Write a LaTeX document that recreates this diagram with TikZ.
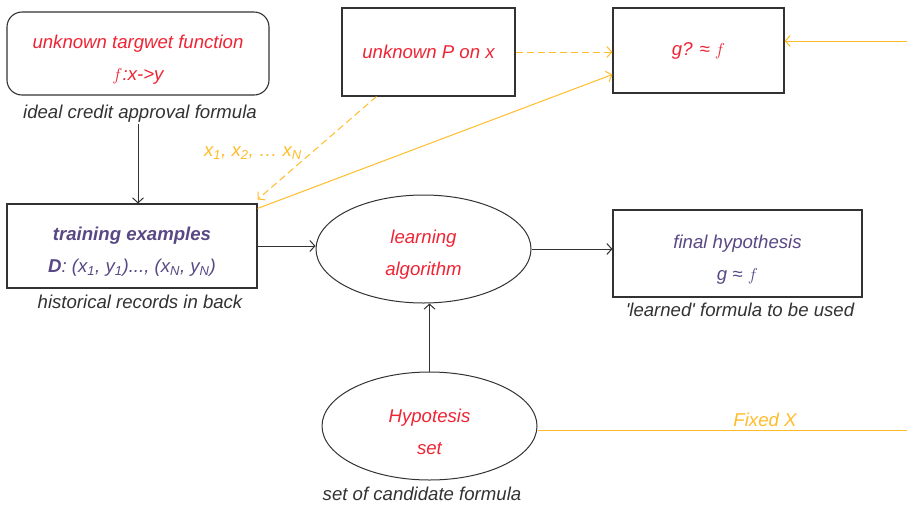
\documentclass[tikz,border=0pt]{standalone}
\usepackage{fontspec}
\setmainfont{Liberation Sans}
\usetikzlibrary{shapes.geometric,arrows.meta}
\definecolor{redtxt}{RGB}{238,36,52}
\definecolor{purpletxt}{RGB}{88,72,132}
\definecolor{ambr}{RGB}{255,188,40}
\definecolor{linegray}{RGB}{50,50,50}
\def\lift{\rule{0pt}{25pt}}

\begin{document}
\begin{tikzpicture}[x=1pt,y=-1pt,>={Straight Barb[length=5pt,width=11pt]},
		every node/.style={font=\fontsize{18.6}{32}\selectfont\itshape,align=center},
		box/.style={draw=linegray,line width=1.1pt,inner sep=0pt},
		oval/.style={ellipse,draw=linegray,line width=1pt,inner sep=0pt},
		note/.style={text=linegray,inner sep=1pt},
		flow/.style={->,draw=linegray,line width=1pt},
		feed/.style={->,draw=ambr,line width=1pt},
		gap/.style={dash pattern=on 7pt off 4pt}]
			\useasboundingbox (0,0) rectangle (907,504);
			% top row
			\node[box,rounded corners=15pt,minimum width=262pt,minimum height=83pt,text=redtxt] (target) at (138,53.5) {\lift unknown targwet function\\$f$:x->y};
			\node[note] (targetnote) at (140,114) {ideal credit approval formula};
			\node[box,minimum width=173pt,minimum height=88pt,text=redtxt] (px) at (428.5,52) {unknown P on x};
			\node[box,minimum width=171pt,minimum height=85pt,text=redtxt] (gapprox) at (698.5,50.5) {g? ≈ $f$};
			% middle row
			\node[box,minimum width=250pt,minimum height=84pt,text=purpletxt] (train) at (132,246) {\lift\textbf{training examples}\\\textbf{D}: (x\textsubscript{1}, y\textsubscript{1})..., (x\textsubscript{N}, y\textsubscript{N})};
			\node[note] (trainnote) at (140,302) {historical records in back};
			\node[oval,minimum width=215pt,minimum height=108pt,text=redtxt] (learn) at (423.5,249) {\lift learning\\algorithm};
			\node[box,minimum width=249pt,minimum height=87pt,text=purpletxt] (final) at (737.5,253.5) {\lift final hypothesis\\g ≈ $f$};
			\node[note] (finalnote) at (740,310) {\textquotesingle learned\textquotesingle\ formula to be used};
			% bottom row
			\node[oval,minimum width=215pt,minimum height=108pt,text=redtxt] (hypset) at (429.5,426) {\lift Hypotesis\\set};
			\node[note] (hypnote) at (422,494) {set of candidate formula};
			\node[text=ambr] (xsample) at (253,153) {x\textsubscript{1}, x\textsubscript{2}, \dots\ x\textsubscript{N}};
			\node[text=ambr] (fixedx) at (765,420) {Fixed X};
			\coordinate (sample) at (907,41);
			\coordinate (fixedend) at (907,430);
			% connectors
			\draw[flow] (target.south |- targetnote.south) -- (target.south |- train.north);
			\draw[flow] (train.east) -- (train.east -| learn.west);
			\draw[flow] (learn.east) -- (learn.east -| final.west);
			\draw[flow] (hypset.north) -- (hypset.north |- learn.south);
			\draw[feed,gap] (px.east) -- (px.east -| gapprox.west);
			\draw[feed] ([yshift=-5pt]train.north east) -- ([yshift=-24pt]gapprox.west);
			\draw[feed,gap] ([xshift=-52pt]px.south) -- ([yshift=4pt]train.north east);
			\draw[feed] (sample) -- (sample -| gapprox.east);
			\draw[ambr,line width=1pt] (fixedend -| hypset.east) -- (fixedend);
		\end{tikzpicture}
\end{document}
